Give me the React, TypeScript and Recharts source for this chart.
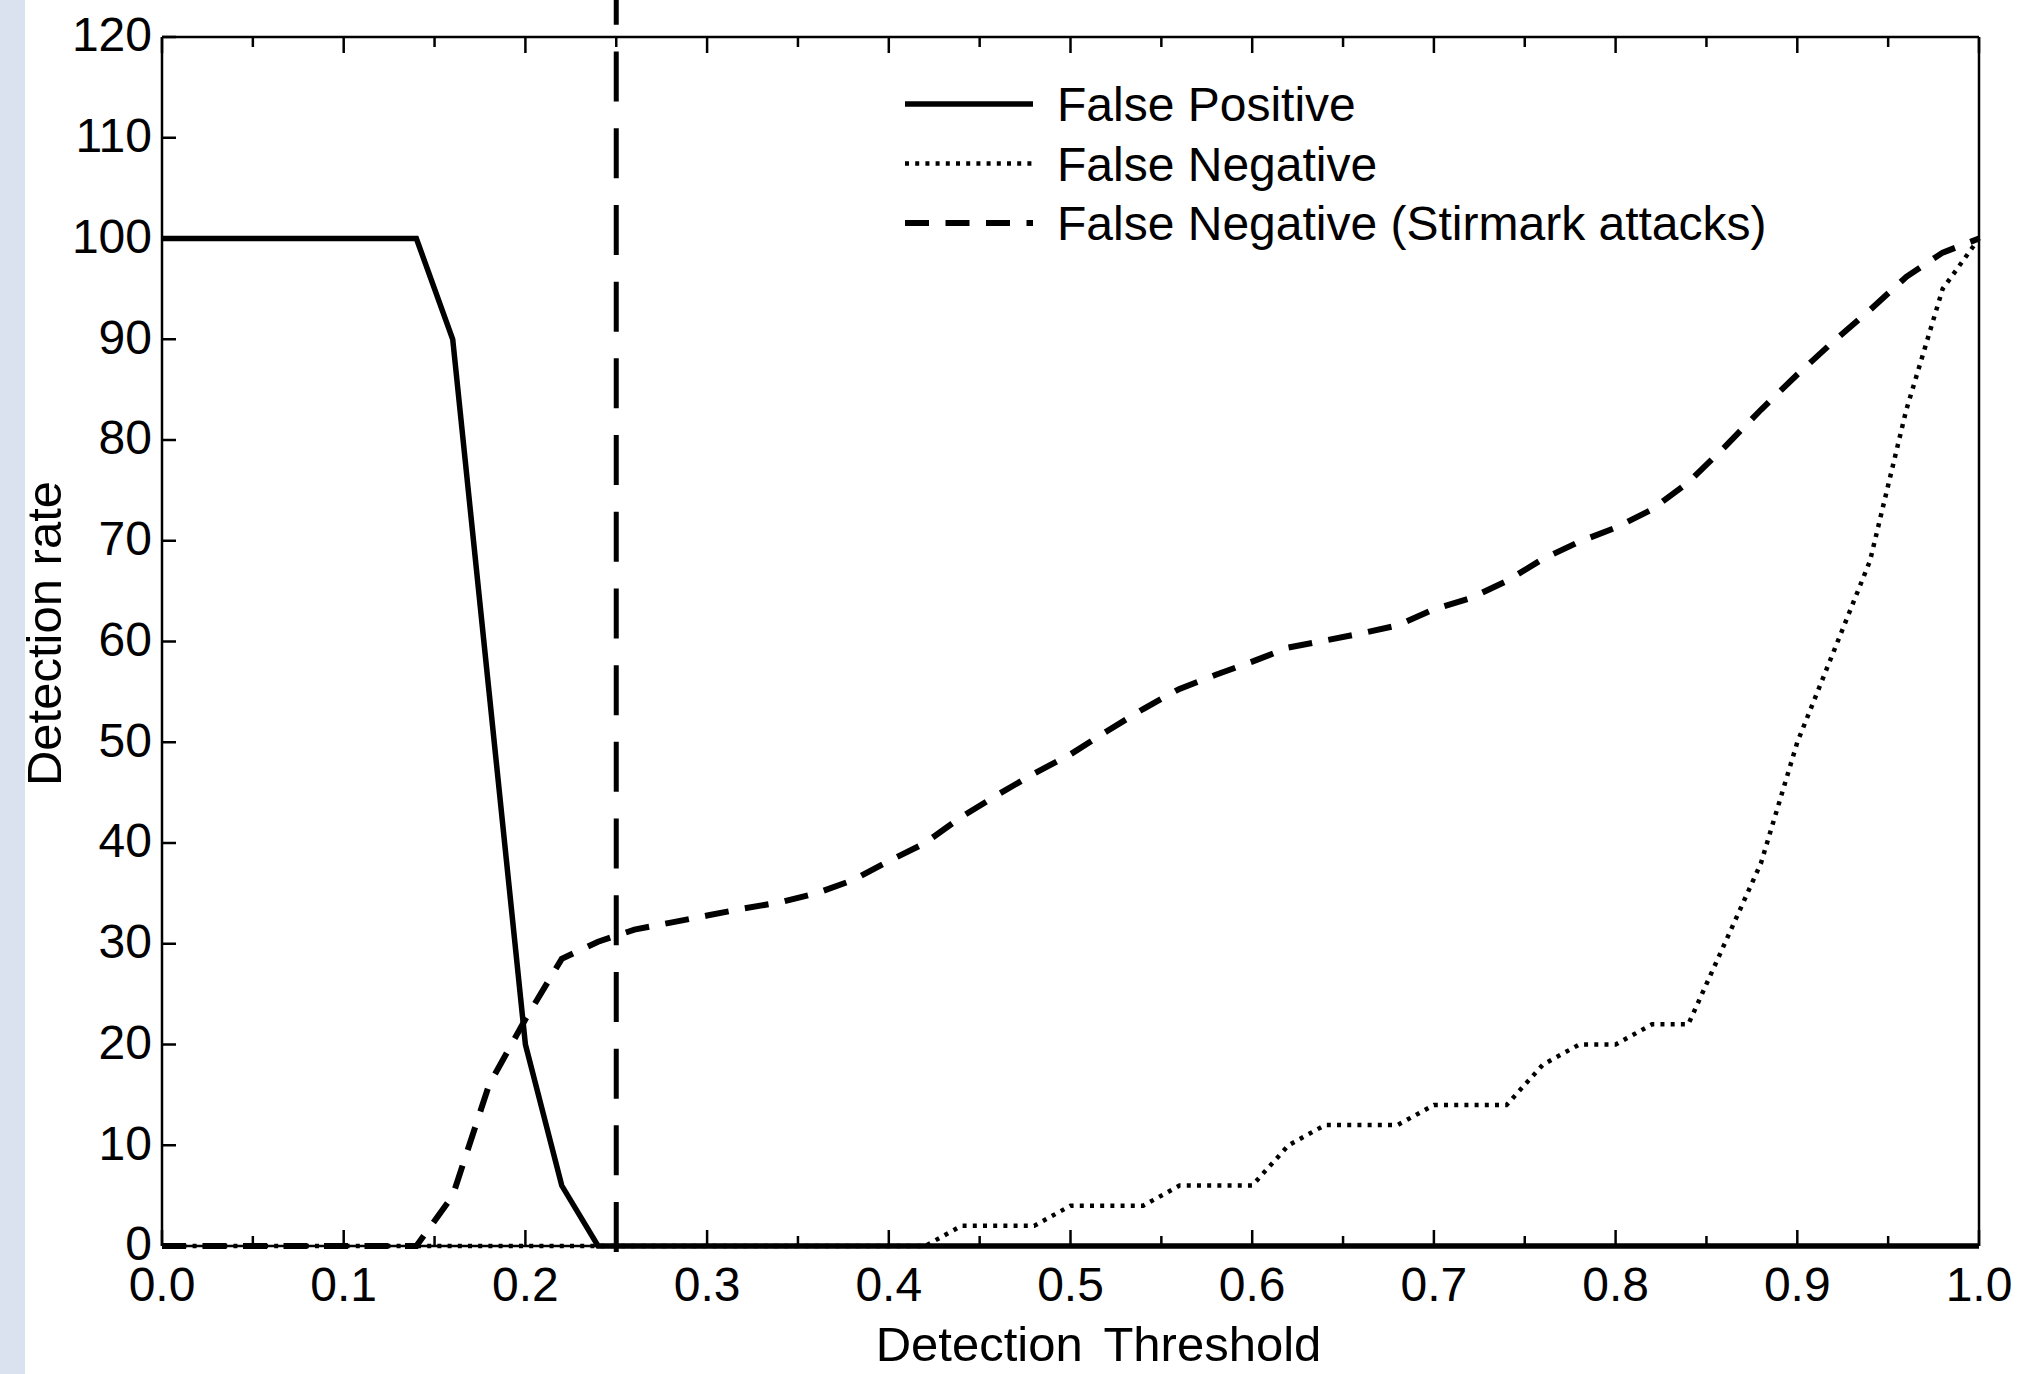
import React from "react";
import { LineChart, Line, XAxis, YAxis, ReferenceLine, Legend } from "recharts";

// Detection threshold steps (x)
const thresholds = [
  0, 0.02, 0.04, 0.06, 0.08, 0.1, 0.12, 0.14, 0.16, 0.18, 0.2, 0.22, 0.24,
  0.26, 0.28, 0.3, 0.32, 0.34, 0.36, 0.38, 0.4, 0.42, 0.44, 0.46, 0.48, 0.5,
  0.52, 0.54, 0.56, 0.58, 0.6, 0.62, 0.64, 0.66, 0.68, 0.7, 0.72, 0.74, 0.76,
  0.78, 0.8, 0.82, 0.84, 0.86, 0.88, 0.9, 0.92, 0.94, 0.96, 0.98, 1.0,
];

const falsePositive = [
  100, 100, 100, 100, 100, 100, 100, 100, 90, 55, 20, 6, 0,
  0, 0, 0, 0, 0, 0, 0, 0, 0, 0, 0, 0, 0,
  0, 0, 0, 0, 0, 0, 0, 0, 0, 0, 0, 0, 0,
  0, 0, 0, 0, 0, 0, 0, 0, 0, 0, 0, 0,
];

const falseNegative = [
  0, 0, 0, 0, 0, 0, 0, 0, 0, 0, 0, 0, 0,
  0, 0, 0, 0, 0, 0, 0, 0, 0, 2, 2, 2, 4,
  4, 4, 6, 6, 6, 10, 12, 12, 12, 14, 14, 14, 18,
  20, 20, 22, 22, 30, 38, 50, 59, 68, 83, 95, 100,
];

const falseNegativeStirmark = [
  0, 0, 0, 0, 0, 0, 0, 0, 5, 16, 22.5, 28.5, 30.2,
  31.4, 32.1, 32.8, 33.5, 34.1, 35.0, 36.3, 38.2, 40.0, 42.6, 44.8, 46.9, 48.8,
  51.1, 53.3, 55.3, 56.7, 58.0, 59.4, 60.1, 60.8, 61.6, 63.2, 64.3, 66.0, 68.2,
  69.9, 71.3, 73.1, 75.8, 79.3, 83.0, 86.5, 89.8, 92.9, 96.2, 98.6, 100,
];

const xTicks = [
  0, 0.05, 0.1, 0.15, 0.2, 0.25, 0.3, 0.35, 0.4, 0.45, 0.5, 0.55, 0.6, 0.65,
  0.7, 0.75, 0.8, 0.85, 0.9, 0.95, 1.0,
];
const yTicks = [0, 10, 20, 30, 40, 50, 60, 70, 80, 90, 100, 110, 120];

// chosen threshold marked by the vertical dashed line
const chosenThreshold = 0.25;

const data = thresholds.map((t, i) => ({
  t,
  fp: falsePositive[i],
  fn: falseNegative[i],
  fns: falseNegativeStirmark[i],
}));

const FONT = '"Liberation Sans", Arial, Helvetica, sans-serif';
const TICK_FONT = 48;
const LABEL_FONT = 49;
const X_MARGIN = 21;
const Y_MARGIN = 10;
const TICK_W = 2.5;

const DOTTED = "4 6.2";
const DASHED = "24 16.5";

const isMajor = (v: number) => Math.abs(v * 10 - Math.round(v * 10)) < 1e-6;

const BottomTick = (props: any) => {
  const { x, y, payload } = props;
  const v = payload.value as number;
  const major = isMajor(v);
  const axisY = y - X_MARGIN;
  return (
    <g>
      <line x1={x} x2={x} y1={axisY} y2={axisY - (major ? 16 : 10)} stroke="#000" strokeWidth={TICK_W} />
      {major && (
        <text x={x} y={y} dy="0.71em" textAnchor="middle" fontSize={TICK_FONT} fontFamily={FONT} fill="#000">
          {v.toFixed(1)}
        </text>
      )}
    </g>
  );
};

const TopTick = (props: any) => {
  const { x, y, payload } = props;
  const major = isMajor(payload.value);
  return <line x1={x} x2={x} y1={y} y2={y + (major ? 16 : 10)} stroke="#000" strokeWidth={TICK_W} />;
};

const LeftTick = (props: any) => {
  const { x, y, payload } = props;
  const axisX = x + Y_MARGIN;
  return (
    <g>
      <line x1={axisX} x2={axisX + 14} y1={y} y2={y} stroke="#000" strokeWidth={TICK_W} />
      <text x={x} y={y} dy="0.3em" textAnchor="end" fontSize={TICK_FONT} fontFamily={FONT} fill="#000">
        {payload.value}
      </text>
    </g>
  );
};

const RightTick = (props: any) => {
  const { x, y } = props;
  return <line x1={x} x2={x - 14} y1={y} y2={y} stroke="#000" strokeWidth={TICK_W} />;
};

const renderXLabel = (props: any) => {
  const vb = props?.viewBox ?? { x: 162, y: 1246, width: 1817, height: 0 };
  return (
    <text
      x={vb.x + vb.width / 2 + 28}
      y={vb.y + 115}
      textAnchor="middle"
      fontSize={LABEL_FONT}
      fontFamily={FONT}
      fill="#000"
      wordSpacing={8}
    >
      Detection Threshold
    </text>
  );
};

const renderYLabel = (props: any) => {
  const vb = props?.viewBox ?? { x: 161, y: 37, width: 1, height: 1209 };
  const cx = vb.x + vb.width - 101;
  const cy = vb.y + vb.height / 2 - 8;
  return (
    <text
      x={cx}
      y={cy}
      transform={`rotate(-90, ${cx}, ${cy})`}
      textAnchor="middle"
      fontSize={LABEL_FONT}
      fontFamily={FONT}
      fill="#000"
    >
      Detection rate
    </text>
  );
};

const legendItems = [
  { name: "False Positive", dash: undefined, width: 5.5 },
  { name: "False Negative", dash: DOTTED, width: 4.5 },
  { name: "False Negative (Stirmark attacks)", dash: DASHED, width: 6 },
];

const renderLegend = () => (
  <svg width={900} height={190}>
    {legendItems.map((item, i) => {
      const cy = 34 + i * 59.5;
      return (
        <g key={item.name}>
          <line x1={5} x2={133} y1={cy} y2={cy} stroke="#000" strokeWidth={item.width} strokeDasharray={item.dash} />
          <text x={157} y={cy} dy="0.36em" fontSize={48} fontFamily={FONT} fill="#000">
            {item.name}
          </text>
        </g>
      );
    })}
  </svg>
);

export default function App() {
  return (
    <div style={{ position: "absolute", left: 0, top: 0, width: 2033, height: 1374, background: "#fff" }}>
      <div style={{ position: "absolute", left: 0, top: 0, width: 25, height: 1374, background: "#dae2f0" }} />
      <LineChart
        width={2033}
        height={1374}
        data={data}
        margin={{ top: 36, right: 53, bottom: 127, left: 161 }}
      >
        <XAxis
          dataKey="t"
          type="number"
          domain={[0, 1]}
          ticks={xTicks}
          interval={0}
          height={1}
          tickSize={0}
          tickMargin={X_MARGIN}
          tickLine={false}
          axisLine={{ stroke: "#000", strokeWidth: 2.5 }}
          tick={BottomTick}
          label={renderXLabel}
        />
        <XAxis
          xAxisId="top"
          orientation="top"
          dataKey="t"
          type="number"
          domain={[0, 1]}
          ticks={xTicks}
          interval={0}
          height={1}
          tickSize={0}
          tickMargin={0}
          tickLine={false}
          axisLine={{ stroke: "#000", strokeWidth: 2.5 }}
          tick={TopTick}
        />
        <YAxis
          type="number"
          domain={[0, 120]}
          ticks={yTicks}
          interval={0}
          width={1}
          tickSize={0}
          tickMargin={Y_MARGIN}
          tickLine={false}
          axisLine={{ stroke: "#000", strokeWidth: 2.5 }}
          tick={LeftTick}
          label={renderYLabel}
        />
        <YAxis
          yAxisId="right"
          orientation="right"
          type="number"
          domain={[0, 120]}
          ticks={yTicks}
          interval={0}
          width={1}
          tickSize={0}
          tickMargin={0}
          tickLine={false}
          axisLine={{ stroke: "#000", strokeWidth: 2.5 }}
          tick={RightTick}
        />
        <ReferenceLine
          segment={[
            { x: chosenThreshold, y: -0.6 },
            { x: chosenThreshold, y: 124 },
          ]}
          ifOverflow="visible"
          stroke="#000"
          strokeWidth={5}
          strokeDasharray="50 26.7"
        />
        <Line
          type="linear"
          dataKey="fp"
          name="False Positive"
          stroke="#000"
          strokeWidth={5.5}
          dot={false}
          activeDot={false}
          isAnimationActive={false}
        />
        <Line
          type="linear"
          dataKey="fn"
          name="False Negative"
          stroke="#000"
          strokeWidth={4.5}
          strokeDasharray={DOTTED}
          dot={false}
          activeDot={false}
          isAnimationActive={false}
        />
        <Line
          type="linear"
          dataKey="fns"
          name="False Negative (Stirmark attacks)"
          stroke="#000"
          strokeWidth={6}
          strokeDasharray={DASHED}
          dot={false}
          activeDot={false}
          isAnimationActive={false}
        />
        <Legend
          layout="horizontal"
          verticalAlign="middle"
          align="center"
          content={renderLegend}
          wrapperStyle={{ left: 900, top: 70, width: 900, height: 190 }}
        />
      </LineChart>
    </div>
  );
}
